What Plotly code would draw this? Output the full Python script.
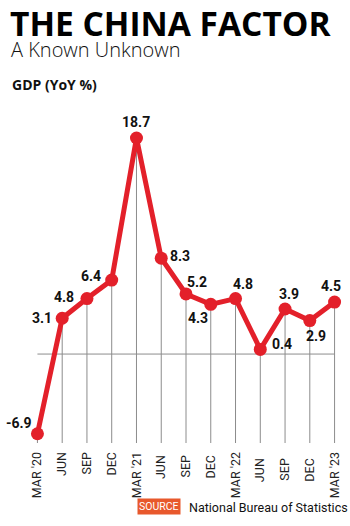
import plotly.graph_objects as go

categories = ["MAR '20", "JUN", "SEP", "DEC", "MAR '21", "JUN ", "SEP ", "DEC ",
              "MAR '22", "JUN  ", "SEP  ", "DEC  ", "MAR '23"]
gdp = [-6.9, 3.1, 4.8, 6.4, 18.7, 8.3, 5.2, 4.3, 4.8, 0.4, 3.9, 2.9, 4.5]
labels = ["-6.9", "3.1", "4.8", "6.4", "18.7", "8.3", "5.2", "4.3", "4.8", "0.4", "3.9", "2.9", "4.5"]
# label offsets (px) relative to each point
offsets = [(-18, 11), (-20, 0), (-23, 2), (-21, 4), (0, 16), (19, 2), (11, 12), (-13, -14),
           (7, 15), (22, 5), (4, 15), (6, -15), (-4, 16)]

W, H = 350, 526
L, R, T, B = 29.5, 7.5, 123, 83
ymin, ymax = -7.7, 20
RED = "#e3202a"
GREY = "#8c8c8c"

def px(xp):
    return (xp - L) / (W - L - R)

def py(yp):
    return (H - B - yp) / (H - T - B)

xs = list(range(len(categories)))

# drop lines from each point to the bottom
dx, dy = [], []
for i, v in zip(xs, gdp):
    dx += [i, i, None]
    dy += [v, ymin, None]

fig = go.Figure()
fig.add_trace(go.Scatter(x=dx, y=dy, mode="lines", line=dict(color=GREY, width=1),
                         hoverinfo="skip", showlegend=False))
fig.add_trace(go.Scatter(x=[xs[0], xs[-1]], y=[0, 0], mode="lines",
                         line=dict(color=GREY, width=1), hoverinfo="skip", showlegend=False))
fig.add_trace(go.Scatter(x=xs, y=gdp, mode="lines+markers",
                         line=dict(color=RED, width=5),
                         marker=dict(color=RED, size=13),
                         cliponaxis=False, showlegend=False))

for i, (v, t, (ox, oy)) in enumerate(zip(gdp, labels, offsets)):
    fig.add_annotation(x=i, y=v, text=t, showarrow=False, xshift=ox, yshift=oy,
                       font=dict(family="Roboto", size=14, color="#111", weight="bold"))

fig.add_annotation(xref="paper", yref="paper", x=px(7), y=py(-2), xanchor="left", yanchor="top",
                   text="THE CHINA FACTOR", showarrow=False,
                   font=dict(family="Open Sans", size=33.5, color="#000", weight=700))
fig.add_annotation(xref="paper", yref="paper", x=px(8), y=py(34), xanchor="left", yanchor="top",
                   text="A Known Unknown", showarrow=False,
                   font=dict(family="Open Sans", size=20, color="#111", weight=300))
fig.add_annotation(xref="paper", yref="paper", x=px(9), y=py(73), xanchor="left", yanchor="top",
                   text="GDP (YoY %)", showarrow=False,
                   font=dict(family="Open Sans", size=14, color="#111", weight="bold"))
fig.add_annotation(xref="paper", yref="paper", x=px(137), y=py(506.5), xanchor="left", yanchor="middle",
                   text="SOURCE", showarrow=False, bgcolor="#e8582c", borderpad=1,
                   font=dict(family="Roboto", size=10.5, color="#fff"))
fig.add_annotation(xref="paper", yref="paper", x=px(187), y=py(507), xanchor="left", yanchor="middle",
                   text="National Bureau of Statistics", showarrow=False,
                   font=dict(family="Roboto", size=12.5, color="#111"))

fig.update_layout(
    width=W, height=H, margin=dict(l=L, r=R, t=T, b=B),
    paper_bgcolor="white", plot_bgcolor="white",
    xaxis=dict(range=[-0.3, 12.3], tickmode="array", tickvals=xs, ticktext=categories,
               tickangle=-90, showgrid=False, zeroline=False, showline=False,
               ticks="outside", ticklen=3, tickcolor="rgba(0,0,0,0)",
               tickfont=dict(family="Liberation Sans Narrow, Roboto", size=12.5, color="#222")),
    yaxis=dict(range=[ymin, ymax], showgrid=False, zeroline=False, showticklabels=False,
               showline=False),
)

fig.write_html("out.html")
